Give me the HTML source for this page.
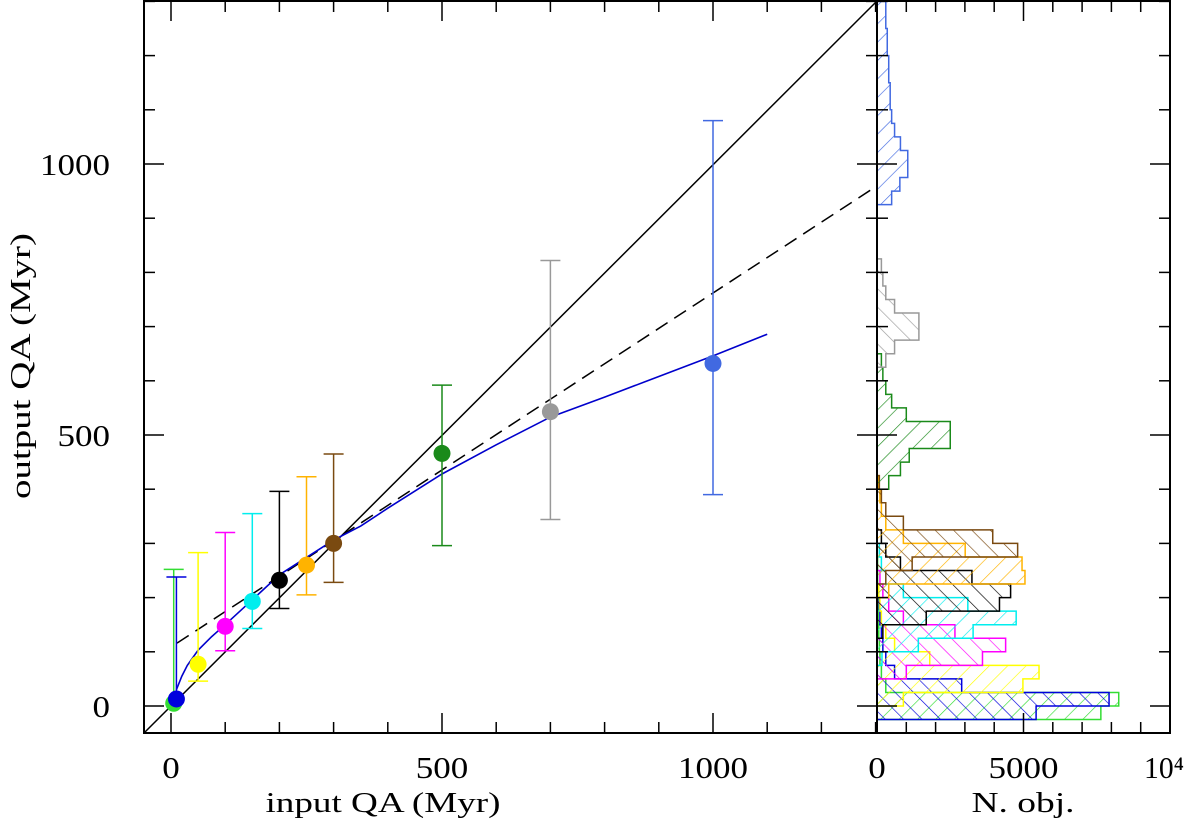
<!DOCTYPE html>
<html><head><meta charset="utf-8"><style>
html,body{margin:0;padding:0;background:#fff;}
svg{display:block;font-family:"Liberation Serif",serif;}
</style></head><body>
<svg id="chart" width="1200" height="823" viewBox="0 0 1200 823" xmlns="http://www.w3.org/2000/svg">
<defs id="defs"></defs>
<g id="hist"></g>
<g id="main"></g>
<g id="axes"></g>
</svg>
<script>
// ---- data ----
const inputAges = [5,10,50,100,150,200,250,300,500,700,1000];
const outputAges = [5,13,77,147,193,232,260,300,466,543,632];
const errLow = [0,0,46,102,143,180,205,228,296,344,390];
const errHigh = [252,238,283,320,355,396,423,465,592,822,1080];
const colors = ['#33dd33','#0000dd','#ffff00','#ff00ff','#00eeee','#000000','#ffb300','#7a4a10','#1a8a1a','#999999','#4169e1'];
const fitX = [10,20,30,50,75,100,150,200,300,350,400,500,600,700,800,900,1000,1100];
const fitY = [30,55,75,103,128,150,196,242,306,332,365,428,482,533,570,608,646,686];
const dashX = [11,1300];
const dashY = [116,958];
// histograms: start value (Myr), bin width 25, counts per bin
const histStart = [-25,-25,0,50,75,125,200,225,400,625,925];
const histCounts = [
 [7640,8250,300,150,100,80,60,40,30,20,20,20],
 [5430,7920,2890,600,300,200,150,100,80,60],
 [900,4980,5530,1800,600,300,150,100,60],
 [1000,3600,4390,2660,900,400,200,100],
 [170,1410,3280,4750,3100,900,300,150,80],
 [200,1680,4180,4560,3240,800,300,150],
 [400,5050,4950,3010,900,300,150,100,60],
 [300,1200,4800,3950,900,300,150,80],
 [400,800,1100,2500,2500,1000,500,300,200,150],
 [300,600,1430,1430,600,300,200,150],
 [500,780,1050,1050,800,600,500,450,450,400,400,350,350,300,300]
];
const xTickLabels = [0,500,1000];
const yTickLabels = [0,500,1000];
const hTickLabels = ['0','5000','10⁴'];
const hTickVals = [0,5000,10000];

// ---- scales ----
const NS='http://www.w3.org/2000/svg';
const X = v => 171 + 0.542*v;
const Y = v => 706 - 0.542*v;
const XH = c => 877 + 0.0293*c;
const PL=144, PR=877, PT=1, PB=733, HR=1170;
function mk(tag, attrs, parent){const e=document.createElementNS(NS,tag);for(const k in attrs)e.setAttribute(k,attrs[k]);parent.appendChild(e);return e;}
const defs=document.getElementById('defs'), hist=document.getElementById('hist'), main=document.getElementById('main'), axes=document.getElementById('axes');

colors.forEach((c,i)=>{
  const p=mk('pattern',{id:'h'+i,patternUnits:'userSpaceOnUse',width:13,height:13,patternTransform:'rotate('+(i%2===0?45:-45)+')'},defs);
  mk('line',{x1:0,y1:0,x2:0,y2:13,stroke:c,'stroke-width':1.3},p);
});

histCounts.forEach((arr,ci)=>{
  let d='M'+XH(0)+','+Y(histStart[ci]);
  arr.forEach((c,b)=>{
    const lo=histStart[ci]+25*b, hiV=lo+25;
    d+=' L'+XH(c)+','+Y(lo)+' L'+XH(c)+','+Y(hiV);
  });
  d+=' L'+XH(0)+','+Y(histStart[ci]+25*arr.length)+' Z';
  const p=mk('path',{d:d,fill:'url(#h'+ci+')',stroke:colors[ci],'stroke-width':1.5},hist);
  
  
});

const diag=mk('line',{x1:PL,y1:PB,x2:PR,y2:PT,stroke:'#000','stroke-width':1.5},main);


const dl=mk('line',{x1:X(dashX[0]),y1:Y(dashY[0]),x2:X(dashX[1]),y2:Y(dashY[1]),stroke:'#000','stroke-width':1.5,'stroke-dasharray':'14,8'},main);


let fd='';
fitX.forEach((v,i)=>{fd+=(i?' L':'M')+X(v).toFixed(1)+','+Y(fitY[i]).toFixed(1);});
const fc=mk('path',{d:fd,fill:'none',stroke:'#0000cc','stroke-width':1.6},main);



inputAges.forEach((v,i)=>{
  const g=mk('g',{},main);
  
  
  const x=X(v), c=colors[i];
  mk('line',{x1:x,y1:Y(errLow[i]),x2:x,y2:Y(errHigh[i]),stroke:c,'stroke-width':1.5},g);
  mk('line',{x1:x-10,y1:Y(errHigh[i]),x2:x+10,y2:Y(errHigh[i]),stroke:c,'stroke-width':1.5},g);
  if(errLow[i]>0) mk('line',{x1:x-10,y1:Y(errLow[i]),x2:x+10,y2:Y(errLow[i]),stroke:c,'stroke-width':1.5},g);
  mk('circle',{cx:x,cy:Y(outputAges[i]),r:8.5,fill:c},g);
});

const fr=mk('path',{d:`M${PL},${PT} L${HR},${PT} L${HR},${PB} L${PL},${PB} Z M${PR},${PT} L${PR},${PB}`,fill:'none',stroke:'#000','stroke-width':2},axes);


for(let v=0;v<=1300;v+=100){
  const L=(v%500===0)?20:11, x=X(v);
  mk('line',{x1:x,y1:PB,x2:x,y2:PB-L,stroke:'#000','stroke-width':1.5},axes);
  mk('line',{x1:x,y1:PT,x2:x,y2:PT+L,stroke:'#000','stroke-width':1.5},axes);
}
for(let v=0;v<=1300;v+=100){
  const L=(v%500===0)?20:11, y=Y(v);
  mk('line',{x1:PL,y1:y,x2:PL+L,y2:y,stroke:'#000','stroke-width':1.5},axes);
  mk('line',{x1:PR,y1:y,x2:PR-L,y2:y,stroke:'#000','stroke-width':1.5},axes);
  mk('line',{x1:PR,y1:y,x2:PR+L,y2:y,stroke:'#000','stroke-width':1.5},axes);
  mk('line',{x1:HR,y1:y,x2:HR-L,y2:y,stroke:'#000','stroke-width':1.5},axes);
}
for(let c=1000;c<10000;c+=1000){
  const L=(c===5000)?20:11, x=XH(c);
  mk('line',{x1:x,y1:PB,x2:x,y2:PB-L,stroke:'#000','stroke-width':1.5},axes);
  mk('line',{x1:x,y1:PT,x2:x,y2:PT+L,stroke:'#000','stroke-width':1.5},axes);
}
function lbl(s,x,y,anchor,w){const a={x:x,y:y,'text-anchor':anchor,'font-size':31};if(w){a.textLength=w;a.lengthAdjust='spacingAndGlyphs';}
  const t=mk('text',a,axes);t.textContent=s;return t;}
xTickLabels.forEach(v=>{const s=String(v);const t=lbl(s,X(v),778,'middle',s.length*17.5);
  });
yTickLabels.forEach(v=>{const s=String(v);const t=lbl(s,110,Y(v)+11,'end',s.length*17.5);
  });
hTickLabels.forEach((s,i)=>{const t=lbl(s,XH(hTickVals[i])-(i===2?6:0),778,'middle',i===2?40:s.length*17.5);
  });
let t=mk('text',{x:383,y:812,'text-anchor':'middle','font-size':29,textLength:235,lengthAdjust:'spacingAndGlyphs'},axes);t.textContent='input QA (Myr)';

t=mk('text',{x:1023,y:812,'text-anchor':'middle','font-size':29,textLength:103,lengthAdjust:'spacingAndGlyphs'},axes);t.textContent='N. obj.';

t=mk('text',{x:0,y:0,'text-anchor':'middle','font-size':29,textLength:266,lengthAdjust:'spacingAndGlyphs',transform:'translate(30,366) rotate(-90)'},axes);t.textContent='output QA (Myr)';

</script>
</body></html>
